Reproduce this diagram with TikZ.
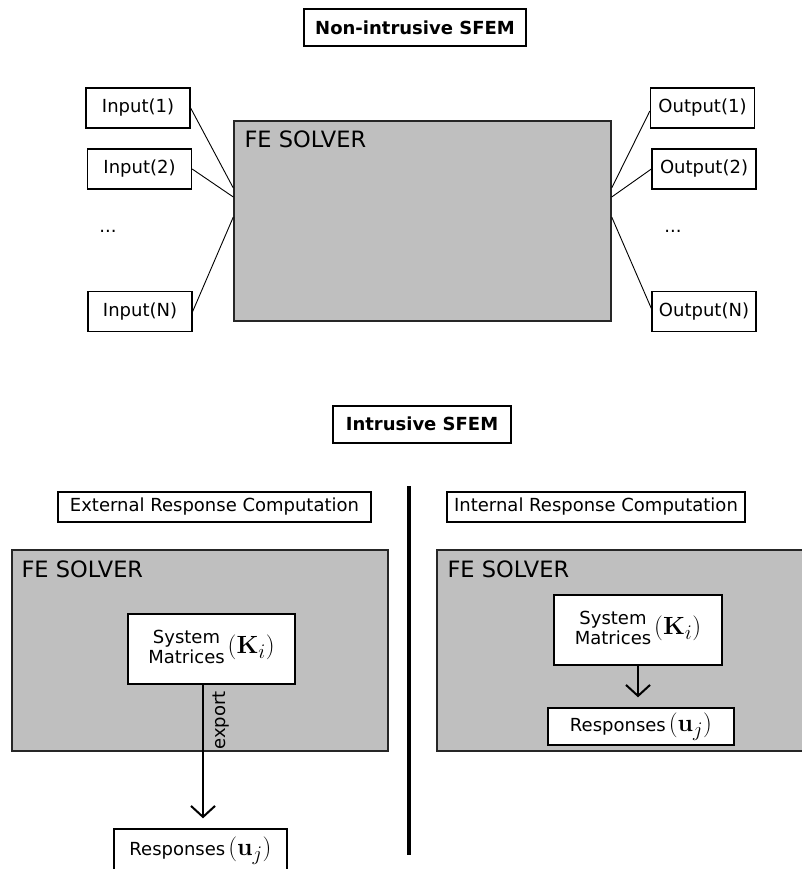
\documentclass[tikz,border=0pt]{standalone}
\usepackage{amsmath}
\usepackage{amssymb}
\usepackage[no-math]{fontspec}
\setmainfont{DejaVu Sans}
\usetikzlibrary{arrows.meta,positioning}

\newcommand{\boxfont}{\fontsize{18}{22}\selectfont}
\newcommand{\solverfont}{\fontsize{22.5}{26}\selectfont}
\newcommand{\bigmath}{\fontsize{29}{31}\selectfont}

\tikzset{
  titlebox/.style={draw, line width=2pt, font=\boxfont\bfseries, inner sep=0pt},
  headbox/.style={draw, line width=1.6pt, font=\boxfont, inner sep=0pt},
  iobox/.style={draw, line width=1.3pt, font=\boxfont, minimum width=104pt, minimum height=40pt, inner sep=0pt},
  solverbox/.style={draw=black!85, line width=1.4pt, fill=gray!50, inner sep=0pt},
  solvertext/.style={font=\solverfont, anchor=west, inner sep=0pt},
  matbox/.style={draw, line width=1.4pt, fill=white, font=\boxfont, inner sep=0pt},
  wire/.style={line width=0.9pt},
  flow/.style={->, line width=2pt},
}

\begin{document}
\begin{tikzpicture}[x=1pt,y=-1pt,>={Straight Barb[length=11pt,width=24pt]}]
			\useasboundingbox (0,0) rectangle (802,869);
			%\draw [help lines, step=50] (0,0) grid (802,869);
			
			% non-intrusive part
			\node[titlebox, minimum width=222pt, minimum height=37pt] (nonint) at (415,27.5) {Non-intrusive SFEM};
			
			\node[solverbox, minimum width=377pt, minimum height=200pt] (solver) at (422.5,221) {};
			\node[solvertext] (solverlbl) at ([xshift=11pt,yshift=-19pt]solver.north west) {FE SOLVER};
			
			\node[iobox] (in1) at (138,108) {Input(1)};
			\node[iobox] (in2) at (139.5,169) {Input(2)};
			\node[font=\boxfont] (indots) at (108,231) {...};
			\node[iobox] (inN) at (140,311.5) {Input(N)};
			
			\node[iobox] (out1) at (702.5,108) {Output(1)};
			\node[iobox] (out2) at (704,169) {Output(2)};
			\node[font=\boxfont] (outdots) at (673,231) {...};
			\node[iobox] (outN) at (704,311.5) {Output(N)};
			
			\draw[wire] (in1.east) -- ([yshift=33pt]solver.west);
			\draw[wire] (in2.east) -- ([yshift=24pt]solver.west);
			\draw[wire] (inN.east) -- ([yshift=4pt]solver.west);
			\draw[wire] ([yshift=33pt]solver.east) -- ([yshift=-3pt]out1.west);
			\draw[wire] ([yshift=24pt]solver.east) -- (out2.west);
			\draw[wire] ([yshift=4pt]solver.east) -- ([yshift=3pt]outN.west);
			
			% intrusive part
			\node[titlebox, minimum width=178pt, minimum height=37pt] (intr) at (422,424) {Intrusive SFEM};
			
			\coordinate (divtop) at (409,486);
			\coordinate (divbot) at (409,855);
			\draw[line width=4pt] (divtop) -- (divbot);
			
			% external response computation
			\node[headbox, minimum width=313pt, minimum height=30pt] (exthead) at (214.5,507) {External Response Computation};
			\node[solverbox, minimum width=376pt, minimum height=201pt] (solverL) at (200,650.5) {};
			\node[solvertext] (lblL) at ([xshift=10pt,yshift=-20pt]solverL.north west) {FE SOLVER};
			\node[matbox, minimum width=167pt, minimum height=70pt] (sysL) at (211.5,649) {\begin{tabular}{@{}c@{}}System\\[-2pt]Matrices\end{tabular}\,{\bigmath$\mathbf{(}\mathbf{K}_i\mathbf{)}$}};
			\node[matbox, minimum width=173pt, minimum height=44pt] (respL) at (200.5,851) {Responses\,{\bigmath$\mathbf{(}\mathbf{u}_j\mathbf{)}$}};
			\draw[flow, shorten >=10pt] ([xshift=-8.5pt]sysL.south) -- ([xshift=-8.5pt]sysL.south |- respL.north)
				node[pos=0.25, rotate=90, anchor=north, font=\boxfont, inner sep=9pt] (exportlbl) {export};
			
			% internal response computation
			\node[headbox, minimum width=298pt, minimum height=30pt] (inthead) at (596,507) {Internal Response Computation};
			\node[solverbox, minimum width=375pt, minimum height=201pt] (solverR) at (624.5,650.5) {};
			\node[solvertext] (lblR) at ([xshift=11pt,yshift=-20pt]solverR.north west) {FE SOLVER};
			\node[matbox, minimum width=168pt, minimum height=70pt] (sysR) at (638,630) {\begin{tabular}{@{}c@{}}System\\[-2pt]Matrices\end{tabular}\,{\bigmath$\mathbf{(}\mathbf{K}_i\mathbf{)}$}};
			\node[matbox, minimum width=186pt, minimum height=37pt] (respR) at (641,726.5) {Responses\,{\bigmath$\mathbf{(}\mathbf{u}_j\mathbf{)}$}};
			\draw[flow, shorten >=10pt] (sysR.south) -- (sysR.south |- respR.north);
	\end{tikzpicture}
\end{document}
